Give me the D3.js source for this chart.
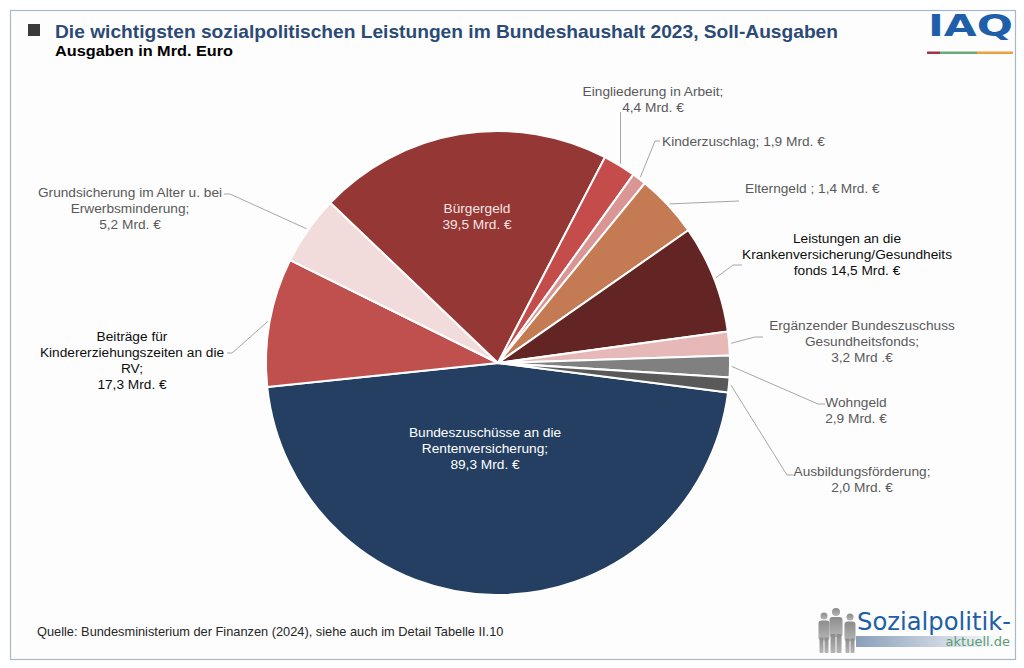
<!DOCTYPE html>
<html><head><meta charset="utf-8">
<script src="https://cdn.jsdelivr.net/npm/d3@7"></script>
<style>
html,body{margin:0;padding:0;background:#ffffff;}
svg{display:block;font-family:"Liberation Sans",Arial,sans-serif;}
</style></head>
<body>
<svg id="chart" width="1024" height="668"></svg>
<script>
// ---- data ----
const categories = [
  "Bundeszuschüsse an die Rentenversicherung",
  "Beiträge für Kindererziehungszeiten an die RV",
  "Grundsicherung im Alter u. bei Erwerbsminderung",
  "Bürgergeld",
  "Eingliederung in Arbeit",
  "Kinderzuschlag",
  "Elterngeld",
  "Leistungen an die Krankenversicherung/Gesundheitsfonds",
  "Ergänzender Bundeszuschuss Gesundheitsfonds",
  "Wohngeld",
  "Ausbildungsförderung"
];
// slice sizes as drawn in the picture (Mrd. €)
const sliceValues = [89.3, 17.3, 9.3, 39.5, 4.4, 1.9, 8.5, 14.5, 3.2, 2.9, 2.0];
// values as printed in the labels
const labelValues = ["89,3", "17,3", "5,2", "39,5", "4,4", "1,9", "1,4", "14,5", "3,2", "2,9", "2,0"];
const labelTexts = [
  ["Bundeszuschüsse an die", "Rentenversicherung;", "{v} Mrd. €"],
  ["Beiträge für", "Kindererziehungszeiten an die", "RV;", "{v} Mrd. €"],
  ["Grundsicherung im Alter u. bei", "Erwerbsminderung;", "{v} Mrd. €"],
  ["Bürgergeld", "{v} Mrd. €"],
  ["Eingliederung in Arbeit;", "{v} Mrd. €"],
  ["Kinderzuschlag; {v} Mrd. €"],
  ["Elterngeld ; {v} Mrd. €"],
  ["Leistungen an die", "Krankenversicherung/Gesundheits", "fonds {v} Mrd. €"],
  ["Ergänzender Bundeszuschuss", "Gesundheitsfonds;", "{v} Mrd .€"],
  ["Wohngeld", "{v} Mrd. €"],
  ["Ausbildungsförderung;", "{v} Mrd. €"]
];
const colors = ["#243f61", "#c0504d", "#f2dcdb", "#953735", "#c44d4c", "#d99694",
                "#c47a52", "#632523", "#e6b9b8", "#808080", "#595959"];
const titleText = "Die wichtigsten sozialpolitischen Leistungen im Bundeshaushalt 2023, Soll-Ausgaben";
const subtitleText = "Ausgaben in Mrd. Euro";
const sourceText = "Quelle: Bundesministerium der Finanzen (2024), siehe auch im Detail Tabelle II.10";

// ---- layout (annotation placement) ----
const labelLayout = [
  {x:485, y:432, anchor:"middle", fill:"#ffffff", inside:true},
  {x:132, y:336, anchor:"middle", fill:"#0d0d0d", elbow:[232,353], end:[227,353]},
  {x:130, y:192, anchor:"middle", fill:"#595959", elbow:[230,194], end:[224,194]},
  {x:477, y:208, anchor:"middle", fill:"#f6e4e4", inside:true},
  {x:653, y:91,  anchor:"middle", fill:"#595959", vertical:112},
  {x:662, y:141, anchor:"start",  fill:"#595959", elbow:[655,141], end:[660,141]},
  {x:745, y:188, anchor:"start",  fill:"#595959", elbow:null, end:[739,201]},
  {x:847, y:238, anchor:"middle", fill:"#0d0d0d", elbow:[733,265], end:[742,265]},
  {x:862, y:325, anchor:"middle", fill:"#595959", elbow:[755,337], end:[763,337]},
  {x:856, y:402, anchor:"middle", fill:"#595959", elbow:[818,404], end:[825,404]},
  {x:862, y:471, anchor:"middle", fill:"#595959", elbow:[787,475], end:[793,475]}
];

const svg = d3.select("#chart");
const W = 1024, H = 668;

// frame
svg.append("rect").attr("x",0).attr("y",0).attr("width",W).attr("height",H).attr("fill","#ffffff");
svg.append("rect").attr("x",10.5).attr("y",10.5).attr("width",1005).attr("height",649)
  .attr("fill","#fdfdfd").attr("stroke","#a9b7ca").attr("stroke-width",1.2);

// title
svg.append("rect").attr("x",28).attr("y",24).attr("width",12).attr("height",12).attr("fill","#3a3a3a");
const title = svg.append("text").attr("x",55).attr("y",37.5)
  .attr("font-size",18.5).attr("font-weight","bold").attr("fill","#2b4a76").text(titleText);
const tl = title.node().getComputedTextLength();
if (Math.abs(tl - 783) > 8) title.attr("textLength",783).attr("lengthAdjust","spacingAndGlyphs");
const sub = svg.append("text").attr("x",55).attr("y",56)
  .attr("font-size",14.5).attr("font-weight","bold").attr("fill","#000").text(subtitleText);
const sl = sub.node().getComputedTextLength();
if (Math.abs(sl - 178) > 5) sub.attr("textLength",178).attr("lengthAdjust","spacingAndGlyphs");

// IAQ logo
const iaq = svg.append("g").attr("transform","translate(928,36)");
iaq.append("text").attr("x",0).attr("y",0).attr("font-size",31).attr("font-weight","bold")
  .attr("fill","#1f5ea8").attr("textLength",85).attr("lengthAdjust","spacingAndGlyphs")
  .attr("font-family","'DejaVu Sans',sans-serif").text("IAQ");
svg.append("rect").attr("x",927).attr("y",51.5).attr("width",13).attr("height",2.5).attr("fill","#a3334d");
svg.append("rect").attr("x",940).attr("y",51.5).attr("width",37).attr("height",2.5).attr("fill","#6aab7b");
svg.append("rect").attr("x",977).attr("y",51.5).attr("width",36).attr("height",2.5).attr("fill","#e9a23f");

// ---- pie ----
const cx = 498, cy = 363, R = 232;
const start = 97.3 * Math.PI / 180;
const pie = d3.pie().sort(null).value(d => d).startAngle(start).endAngle(start + 2*Math.PI);
const arcs = pie(sliceValues);
const arc = d3.arc().innerRadius(0).outerRadius(R);
const edgeArc = d3.arc().innerRadius(R + 2).outerRadius(R + 2);
const g = svg.append("g").attr("transform", `translate(${cx},${cy})`);
g.selectAll("path.slice").data(arcs).join("path").attr("class","slice")
  .attr("d", arc).attr("fill", (d,i) => colors[i])
  .attr("stroke","#ffffff").attr("stroke-width",2).attr("stroke-linejoin","round");

// leader lines
const line = d3.line();
arcs.forEach((d,i) => {
  const L = labelLayout[i];
  if (L.inside) return;
  const p = edgeArc.centroid(d);
  const s = [cx + p[0], cy + p[1]];
  let pts;
  if (L.vertical !== undefined) pts = [s, [s[0], L.vertical]];
  else if (L.elbow) pts = [s, L.elbow, L.end];
  else pts = [s, L.end];
  svg.append("path").attr("d", line(pts)).attr("fill","none")
    .attr("stroke","#a6a6a6").attr("stroke-width",1);
});

// labels
labelTexts.forEach((lines,i) => {
  const L = labelLayout[i];
  const t = svg.append("text").attr("font-size",13.7).attr("fill",L.fill)
    .attr("text-anchor",L.anchor);
  lines.forEach((ln,j) => {
    t.append("tspan").attr("x",L.x).attr("y",L.y + j*16).attr("dy","0.35em")
      .text(ln.replace("{v}", labelValues[i]));
  });
});

// source
svg.append("text").attr("x",37).attr("y",636).attr("font-size",12.8).attr("fill","#262626").text(sourceText);

// Sozialpolitik-aktuell logo
const defs = svg.append("defs");
const grad = defs.append("linearGradient").attr("id","barGrad").attr("x1","0").attr("x2","1");
grad.append("stop").attr("offset","0").attr("stop-color","#8a9fba");
grad.append("stop").attr("offset","1").attr("stop-color","#ffffff");
const pg = defs.append("linearGradient").attr("id","pplGrad").attr("x1","0").attr("x2","0").attr("y1","0").attr("y2","1");
pg.append("stop").attr("offset","0").attr("stop-color","#8c8c8c");
pg.append("stop").attr("offset","1").attr("stop-color","#b5b5b5");
svg.append("rect").attr("x",856).attr("y",636).attr("width",150).attr("height",11).attr("fill","url(#barGrad)");
const people = [[824,616,5.5,3.5],[836,612,6.5,4],[850,617,5.5,3.5]];
const pgG = svg.append("g").attr("fill","url(#pplGrad)");
people.forEach(p => {
  pgG.append("circle").attr("cx",p[0]).attr("cy",p[1]).attr("r",p[3]);
  pgG.append("rect").attr("x",p[0]-p[2]).attr("y",p[1]+p[3]+1).attr("width",p[2]*2).attr("height",20).attr("rx",3);
  pgG.append("rect").attr("x",p[0]-p[2]+1).attr("y",p[1]+p[3]+18).attr("width",p[2]-1.5).attr("height",653-(p[1]+p[3]+18)).attr("rx",1);
  pgG.append("rect").attr("x",p[0]+0.5).attr("y",p[1]+p[3]+18).attr("width",p[2]-1.5).attr("height",653-(p[1]+p[3]+18)).attr("rx",1);
});
svg.append("text").attr("x",857).attr("y",630).attr("font-size",24)
  .attr("font-family","'DejaVu Sans',sans-serif").attr("fill","#1f5ea8")
  .attr("textLength",154).attr("lengthAdjust","spacingAndGlyphs").text("Sozialpolitik-");
svg.append("text").attr("x",1010).attr("y",646).attr("font-size",13).attr("text-anchor","end")
  .attr("font-family","'DejaVu Sans',sans-serif").attr("fill","#5b9b74").text("aktuell.de");
</script>
</body></html>
